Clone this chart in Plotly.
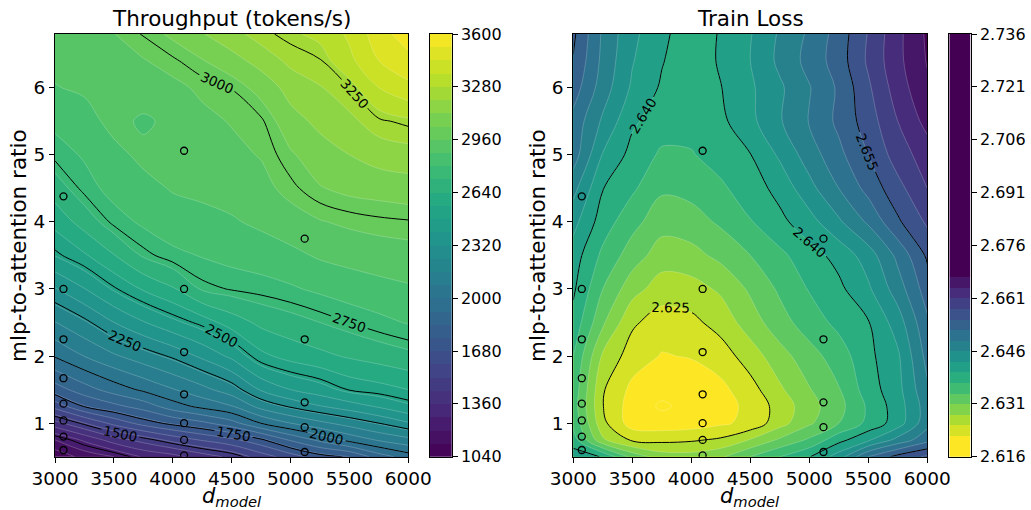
import plotly.graph_objects as go

W, H = 1031, 510
FONT = "DejaVu Sans"

# ---------------- data ----------------
d_model_grid = [3000, 3250, 3500, 3750, 4000, 4250, 4500, 4750, 5000, 5250, 5500, 5750, 6000]
ratio_grid = [0.5, 0.75, 1.0, 1.25, 1.5, 2.0, 2.5, 3.0, 3.5, 4.0, 4.5, 5.0, 5.5, 6.0, 6.4, 6.8]

throughput = [
    [1060, 1150, 1200, 1290, 1330, 1400, 1460, 1560, 1640, 1720, 1760, 1880, 1960],
    [1200, 1295, 1400, 1471, 1546, 1608, 1661, 1735, 1850, 1940, 2025, 2090, 2135],
    [1410, 1519, 1625, 1712, 1773, 1821, 1890, 2002, 2080, 2140, 2195, 2250, 2312],
    [1630, 1755, 1817, 1875, 1962, 2022, 2074, 2190, 2260, 2315, 2360, 2410, 2465],
    [1800, 1885, 1956, 2015, 2075, 2134, 2207, 2330, 2400, 2445, 2505, 2530, 2560],
    [2007, 2082, 2148, 2205, 2262, 2337, 2419, 2540, 2590, 2620, 2650, 2675, 2700],
    [2156, 2229, 2319, 2394, 2460, 2519, 2597, 2660, 2690, 2720, 2750, 2780, 2805],
    [2314, 2397, 2490, 2569, 2630, 2730, 2755, 2770, 2790, 2815, 2840, 2855, 2870],
    [2483, 2550, 2636, 2730, 2780, 2805, 2825, 2840, 2860, 2890, 2905, 2920, 2930],
    [2586, 2675, 2765, 2815, 2850, 2860, 2872, 2895, 2925, 2955, 2975, 2988, 2995],
    [2681, 2767, 2830, 2860, 2885, 2895, 2910, 2935, 2985, 3035, 3060, 3070, 3082],
    [2765, 2810, 2862, 2895, 2905, 2920, 2940, 2965, 3030, 3085, 3120, 3155, 3168],
    [2820, 2855, 2900, 2870, 2895, 2940, 2965, 2990, 3090, 3140, 3180, 3240, 3265],
    [2877, 2890, 2905, 2915, 2940, 2975, 3002, 3070, 3150, 3195, 3250, 3360, 3420],
    [2895, 2912, 2930, 2955, 2990, 3035, 3090, 3150, 3220, 3245, 3340, 3440, 3490],
    [2912, 2932, 2958, 3005, 3055, 3115, 3170, 3235, 3268, 3300, 3375, 3482, 3570],
]

train_loss = [
    [2.6415, 2.6398, 2.6330, 2.6295, 2.6292, 2.6305, 2.6340, 2.6370, 2.6398, 2.6445, 2.6520, 2.6560, 2.6585],
    [2.6385, 2.6285, 2.6245, 2.6242, 2.6246, 2.6255, 2.6282, 2.6315, 2.6345, 2.6390, 2.6425, 2.6470, 2.6510],
    [2.6365, 2.6258, 2.6205, 2.6202, 2.6205, 2.6215, 2.6228, 2.6268, 2.6305, 2.6340, 2.6378, 2.6415, 2.6480],
    [2.6355, 2.6251, 2.6205, 2.6186, 2.6198, 2.6208, 2.6228, 2.6262, 2.6298, 2.6330, 2.6375, 2.6415, 2.6475],
    [2.6360, 2.6253, 2.6212, 2.6198, 2.6200, 2.6212, 2.6238, 2.6275, 2.6308, 2.6338, 2.6385, 2.6420, 2.6485],
    [2.6370, 2.6275, 2.6235, 2.6218, 2.6222, 2.6235, 2.6265, 2.6298, 2.6328, 2.6355, 2.6392, 2.6425, 2.6500],
    [2.6390, 2.6315, 2.6255, 2.6235, 2.6242, 2.6262, 2.6295, 2.6328, 2.6355, 2.6378, 2.6398, 2.6445, 2.6515],
    [2.6405, 2.6340, 2.6292, 2.6265, 2.6268, 2.6285, 2.6315, 2.6345, 2.6372, 2.6393, 2.6425, 2.6475, 2.6535],
    [2.6415, 2.6363, 2.6325, 2.6295, 2.6300, 2.6318, 2.6340, 2.6363, 2.6388, 2.6410, 2.6445, 2.6498, 2.6555],
    [2.6440, 2.6385, 2.6350, 2.6322, 2.6327, 2.6345, 2.6368, 2.6392, 2.6418, 2.6455, 2.6495, 2.6545, 2.6585],
    [2.6470, 2.6401, 2.6375, 2.6345, 2.6350, 2.6365, 2.6385, 2.6410, 2.6450, 2.6490, 2.6530, 2.6570, 2.6610],
    [2.6505, 2.6428, 2.6390, 2.6365, 2.6368, 2.6382, 2.6399, 2.6435, 2.6475, 2.6512, 2.6550, 2.6595, 2.6625],
    [2.6510, 2.6455, 2.6405, 2.6385, 2.6380, 2.6393, 2.6422, 2.6457, 2.6492, 2.6527, 2.6565, 2.6610, 2.6650],
    [2.6535, 2.6475, 2.6425, 2.6396, 2.6378, 2.6399, 2.6425, 2.6455, 2.6488, 2.6525, 2.6575, 2.6625, 2.6665],
    [2.6548, 2.6482, 2.6432, 2.6402, 2.6380, 2.6404, 2.6430, 2.6467, 2.6500, 2.6535, 2.6585, 2.6632, 2.6672],
    [2.6556, 2.6485, 2.6437, 2.6408, 2.6380, 2.6403, 2.6428, 2.6464, 2.6495, 2.6533, 2.6582, 2.6632, 2.6675],
]

sample_d_model = [3072] * 8 + [4096] * 7 + [5120] * 5
sample_ratio = [0.60, 0.80, 1.04, 1.29, 1.67, 2.25, 3.00, 4.38,
                0.52, 0.75, 1.00, 1.43, 2.06, 3.00, 5.06,
                0.57, 0.94, 1.31, 2.25, 3.75]

x_ticks = [3000, 3500, 4000, 4500, 5000, 5500, 6000]
y_ticks = [1, 2, 3, 4, 5, 6]
tp_levels = dict(start=1040, end=3600, size=80)
tp_line_levels = dict(start=1250, end=3250, size=250)
tp_cbar_ticks = [1040, 1360, 1680, 2000, 2320, 2640, 2960, 3280, 3600]
loss_levels = dict(start=2.616, end=2.736, size=0.003)
loss_line_levels = dict(start=2.625, end=2.655, size=0.015)
loss_cbar_ticks = [2.616, 2.631, 2.646, 2.661, 2.676, 2.691, 2.706, 2.721, 2.736]

# ---------------- colours ----------------
VIRIDIS = ["#440154", "#482475", "#414487", "#355f8d", "#2a788e", "#21918c",
           "#22a884", "#44bf70", "#7ad151", "#bddf26", "#fde725"]


def _rgb(h):
    return tuple(int(h[i:i + 2], 16) for i in (1, 3, 5))


def viridis(t):
    t = min(max(t, 0.0), 1.0)
    p = t * (len(VIRIDIS) - 1)
    i = min(int(p), len(VIRIDIS) - 2)
    f = p - i
    a, b = _rgb(VIRIDIS[i]), _rgb(VIRIDIS[i + 1])
    return "rgb(%d,%d,%d)" % tuple(round(a[j] + (b[j] - a[j]) * f) for j in range(3))


def nbands(lv):
    return int(round((lv["end"] - lv["start"]) / lv["size"]))


tp_nb = nbands(tp_levels)
loss_nb = nbands(loss_levels)
tp_colors = [viridis((k + 0.5) / tp_nb) for k in range(tp_nb)]
loss_colors = [viridis(1 - (k - 1) / 16.0) for k in range(loss_nb)]


def contour_scale(cols):
    nc = len(cols) + 1
    cs = [[0.0, cols[0]]]
    for k, c in enumerate(cols):
        cs.append([(k + 1) / nc, c])
    cs.append([1.0, cols[-1]])
    return cs


def bar_scale(cols):
    n = len(cols)
    return [[k / (n - 1), c] for k, c in enumerate(cols)]


fig = go.Figure()

panels = [
    (throughput, tp_levels, tp_line_levels, tp_colors, "d", "x", "y"),
    (train_loss, loss_levels, loss_line_levels, loss_colors, ".3f", "x2", "y2"),
]
for z, lv, llv, cols, fmt, xa, ya in panels:
    fig.add_trace(go.Contour(
        x=d_model_grid, y=ratio_grid, z=z, xaxis=xa, yaxis=ya,
        autocontour=False,
        contours=dict(start=lv["start"], end=lv["end"], size=lv["size"],
                      coloring="fill", showlines=True),
        line=dict(color="rgba(255,255,255,0.35)", width=0.6, smoothing=1.0),
        colorscale=contour_scale(cols), showscale=False, hoverinfo="skip"))
    fig.add_trace(go.Contour(
        x=d_model_grid, y=ratio_grid, z=z, xaxis=xa, yaxis=ya,
        autocontour=False,
        contours=dict(start=llv["start"], end=llv["end"], size=llv["size"],
                      coloring="none", showlabels=True, labelformat=fmt,
                      labelfont=dict(size=13.5, color="black", family=FONT)),
        line=dict(color="black", width=1, smoothing=1.0),
        showscale=False, hoverinfo="skip"))
    fig.add_trace(go.Scatter(
        x=sample_d_model, y=sample_ratio, mode="markers", xaxis=xa, yaxis=ya,
        marker=dict(symbol="circle-open", size=7, color="black",
                    line=dict(width=1.3, color="black")),
        hoverinfo="skip", showlegend=False))

# colour bars drawn as discrete heatmaps on their own axes
for lv, cols, xa, ya in [(tp_levels, tp_colors, "x3", "y3"),
                         (loss_levels, loss_colors, "x4", "y4")]:
    n = len(cols)
    edges = [lv["start"] + k * lv["size"] for k in range(n + 1)]
    fig.add_trace(go.Heatmap(
        x=[0, 1], y=edges, z=[[k] for k in range(n)], zmin=0, zmax=n - 1,
        colorscale=bar_scale(cols), showscale=False, hoverinfo="skip",
        xaxis=xa, yaxis=ya))

ydom = [(H - 456.7) / H, (H - 34) / H]
common = dict(showline=True, linecolor="black", linewidth=1, mirror=True,
              showgrid=False, zeroline=False, ticks="outside", ticklen=5,
              tickwidth=1, tickcolor="black", automargin=False)
main_x = dict(range=[3000, 6000], tickvals=x_ticks,
              tickfont=dict(size=18.5, family=FONT, color="black"), **common)
main_y = dict(range=[0.5, 6.8], tickvals=y_ticks,
              tickfont=dict(size=18.5, family=FONT, color="black"), **common)
cb_x = dict(range=[0, 1], showticklabels=False, ticks="", showline=True,
            linecolor="black", linewidth=1, mirror=True, showgrid=False,
            zeroline=False, automargin=False)
cb_common = dict(side="right", ticks="outside", ticklen=5, tickwidth=1,
                 tickcolor="black", showline=True, linecolor="black",
                 linewidth=1, mirror=True, showgrid=False, zeroline=False,
                 automargin=False,
                 tickfont=dict(size=16, family=FONT, color="black"))

fig.update_layout(
    width=W, height=H, autosize=False, template="none",
    margin=dict(l=0, r=0, t=0, b=0, pad=0),
    paper_bgcolor="white", plot_bgcolor="white", showlegend=False,
    font=dict(family=FONT, color="black"),
    xaxis=dict(domain=[55 / W, 408.3 / W], anchor="y", **main_x),
    yaxis=dict(domain=ydom, anchor="x", **main_y),
    xaxis2=dict(domain=[573.3 / W, 927.3 / W], anchor="y2", **main_x),
    yaxis2=dict(domain=ydom, anchor="x2", **main_y),
    xaxis3=dict(domain=[430 / W, 451.7 / W], anchor="y3", **cb_x),
    yaxis3=dict(domain=ydom, anchor="x3", range=[tp_levels["start"], tp_levels["end"]],
                tickvals=tp_cbar_ticks, **cb_common),
    xaxis4=dict(domain=[949.3 / W, 970.7 / W], anchor="y4", **cb_x),
    yaxis4=dict(domain=ydom, anchor="x4", range=[loss_levels["start"], loss_levels["end"]],
                tickvals=loss_cbar_ticks,
                ticktext=["%.3f" % v for v in loss_cbar_ticks], **cb_common),
)

ann = []
title_font = dict(size=21.5, family=FONT, color="black")
for cx, txt in [(231.7, "Throughput (tokens/s)"), (750.3, "Train Loss")]:
    ann.append(dict(text=txt, x=cx / W, y=1 - 19 / H, xref="paper", yref="paper",
                    xanchor="center", yanchor="middle", showarrow=False, font=title_font))
    ann.append(dict(text="<i>d</i><sub><i>model</i></sub>", x=cx / W, y=1 - 497 / H,
                    xref="paper", yref="paper", xanchor="center", yanchor="middle",
                    borderpad=0, showarrow=False,
                    font=dict(size=21, family=FONT, color="black")))
for cx in [18.5, 537.5]:
    ann.append(dict(text="mlp-to-attention ratio", x=cx / W, y=1 - 245.4 / H,
                    xref="paper", yref="paper", xanchor="center", yanchor="middle",
                    textangle=-90, showarrow=False, font=title_font))
fig.update_layout(annotations=ann)

fig.write_html(
    "out.html",
    config={"displayModeBar": False, "responsive": False},
    post_script="document.body.style.margin='0px';document.body.style.overflow='hidden';",
)
